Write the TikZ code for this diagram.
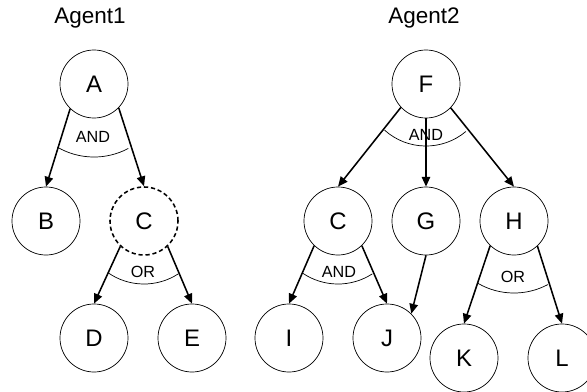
\documentclass[tikz,border=0pt]{standalone}
\usepackage{fontspec}
\setmainfont{Liberation Sans}
\usetikzlibrary{arrows.meta}

\tikzset{
  goal/.style={circle, draw, line width=0.5pt, minimum size=1.7cm, inner sep=0pt, font=\fontsize{17}{20}\selectfont},
  softgoal/.style={goal, dash pattern=on 3pt off 2pt, line width=1.1pt},
  refine/.style={-{Triangle[length=7pt,width=6pt]}, line width=1.1pt},
  joint/.style={line width=0.5pt},
  jointlabel/.style={font=\fontsize{11.5}{13}\selectfont, inner sep=1pt},
  agentlabel/.style={font=\fontsize{16}{19}\selectfont}
}

\begin{document}
\begin{tikzpicture}[x=0.025cm, y=0.025cm]
  \useasboundingbox (0,0) rectangle (587,391);
  % Agent1
  \node[agentlabel] (agent1) at (90,373) {Agent1};
  \node[goal] (a) at (94,307) {A};
  \node[goal] (b) at (46,170) {B};
  \node[softgoal] (c) at (144,170) {C};
  \node[goal] (d) at (94,53) {D};
  \node[goal] (e) at (192,53) {E};
  \draw[refine] (a.-134) -- (b.north);
  \draw[refine] (a.-44) -- (c.north);
  \draw[refine] (c.-133) -- (d.north);
  \draw[refine] (c.-47) -- (e.north);
  \draw[joint] ([shift={(240:1.825cm)}]a.center) arc[start angle=240, end angle=298, radius=1.825cm];
  \node[jointlabel] (andA) at (93,254) {AND};
  \draw[joint] ([shift={(235:1.575cm)}]c.center) arc[start angle=235, end angle=303, radius=1.575cm];
  \node[jointlabel] (orC) at (143,119) {OR};
  % Agent2
  \node[agentlabel] (agent2) at (424,373) {Agent2};
  \node[goal] (f) at (426,307) {F};
  \node[goal] (c2) at (338,170) {C};
  \node[goal] (g) at (426,170) {G};
  \node[goal] (h) at (514,170) {H};
  \node[goal] (i) at (289,53) {I};
  \node[goal] (j) at (387,53) {J};
  \node[goal] (k) at (464,33) {K};
  \node[goal] (l) at (562,33) {L};
  \draw[refine] (f.223) -- (c2.north);
  \draw[refine] (f.south) -- (g.north);
  \draw[refine] (f.-44) -- (h.north);
  \draw[refine] (c2.226) -- (i.north);
  \draw[refine] (c2.-46) -- (j.north);
  \draw[refine] (g.south) -- (j.north east);
  \draw[refine] (h.226) -- (k.north);
  \draw[refine] (h.-47) -- (l.north);
  \draw[joint] ([shift={(228:1.55cm)}]f.center) arc[start angle=228, end angle=310, radius=1.55cm];
  \node[jointlabel] (andF) at (426,256) {AND};
  \draw[joint] ([shift={(236:1.575cm)}]c2.center) arc[start angle=236, end angle=303, radius=1.575cm];
  \node[jointlabel] (andC) at (339,119) {AND};
  \draw[joint] ([shift={(240:1.8cm)}]h.center) arc[start angle=240, end angle=298, radius=1.8cm];
  \node[jointlabel] (orH) at (513,114) {OR};
\end{tikzpicture}
\end{document}
